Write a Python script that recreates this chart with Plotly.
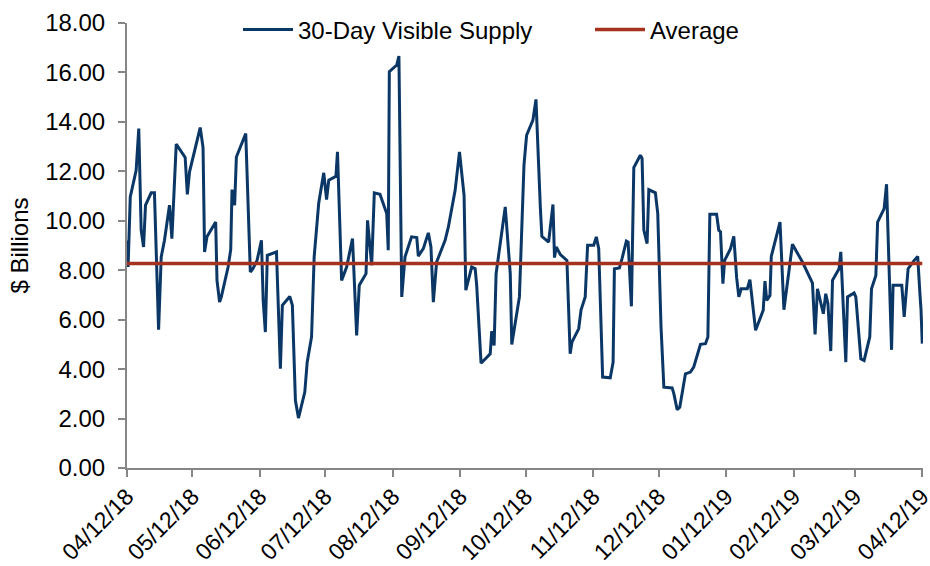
import pandas as pd
import plotly.graph_objects as go

# ---- data ----
start_date = "2018-04-12"
end_date = "2019-04-12"

# day offsets from 04/12/18 of each vertex of the supply line
day_offset = [
    0.0, 0.5, 1.5, 4.2, 5.4, 6.5, 7.6, 8.5, 11.1, 12.6, 14.5, 15.7, 17.2, 19.5, 20.6,
    22.6, 26.7, 27.7, 28.7, 33.6, 34.9, 35.6, 36.7, 40.7, 41.3, 42.5, 43.3, 46.4, 47.6,
    48.2, 49.4, 50.2, 54.5, 56.6, 57.8, 59.7, 61.7, 62.5, 63.5, 64.4, 68.6, 69.3, 70.4,
    71.3, 74.7, 75.9, 77.3, 78.7, 81.6, 82.7, 84.7, 85.9, 88.0, 90.3, 91.6, 92.6, 95.9,
    96.6, 98.5, 100.8, 103.5, 105.4, 106.6, 109.7, 110.4, 112.3, 113.5, 116.1, 119.2,
    119.9, 120.4, 123.8, 124.8, 126.1, 127.6, 130.6, 133.0, 133.7, 136.0, 138.3, 139.5,
    140.6, 142.1, 146.0, 147.5, 150.6, 152.6, 154.7, 155.5, 158.2, 159.8, 160.5, 162.5,
    166.7, 167.4, 168.5, 169.4, 173.6, 174.6, 175.9, 176.6, 180.1, 182.2, 183.4, 186.3,
    187.7, 189.7, 190.4, 193.5, 195.5, 196.2, 197.0, 198.9, 201.1, 201.9, 203.4, 204.2,
    207.3, 208.4, 210.3, 211.4, 214.2, 215.4, 216.5, 218.3, 221.8, 223.1, 223.7, 226.0,
    227.2, 229.2, 230.0, 231.5, 232.6, 235.6, 236.4, 237.2, 238.7, 239.5, 242.5, 243.6,
    245.1, 246.4, 250.2, 251.0, 252.5, 253.7, 256.3, 258.6, 260.1, 263.2, 265.5, 266.6,
    267.5, 270.6, 271.6, 272.4, 273.5, 274.3, 277.0, 278.5, 279.8, 280.8, 281.9, 284.7,
    285.9, 288.5, 292.0, 292.8, 293.6, 295.1, 295.7, 297.7, 299.7, 301.5, 305.4, 310.0,
    314.6, 315.8, 316.9, 319.6, 320.7, 321.7, 323.0, 323.8, 326.8, 327.6, 329.9, 330.7,
    333.7, 334.5, 336.8, 338.3, 340.9, 341.7, 343.7, 344.5, 347.5, 348.6, 350.9, 351.6,
    355.6, 356.7, 358.5, 361.3, 362.9, 364.0, 364.4, 365.0,
]

supply = [
    9.20, 8.13, 10.96, 12.04, 13.73, 9.62, 8.94, 10.63, 11.13, 11.13, 5.59, 8.54, 9.21, 10.63, 9.28,
    13.10, 12.56, 11.07, 11.98, 13.77, 12.96, 8.74, 9.35, 9.95, 7.59, 6.71, 6.92, 8.13, 8.83,
    11.26, 10.63, 12.58, 13.53, 7.93, 8.06, 8.40, 9.21, 6.78, 5.50, 8.60, 8.74, 7.05, 4.02,
    6.58, 6.94, 6.58, 2.73, 2.02, 3.07, 4.28, 5.30, 8.54, 10.72, 11.94, 10.86, 11.64, 11.80,
    12.79, 7.59, 8.13, 9.28, 5.36, 7.39, 7.86, 10.02, 8.20, 11.13, 11.07, 10.29,
    8.81, 16.03, 16.30, 16.66, 6.92, 8.54, 9.35, 9.32, 8.57, 8.87, 9.51, 8.94,
    6.71, 8.33, 9.21, 9.75, 11.23, 12.79, 11.03, 7.19, 8.13, 8.06, 7.39, 4.24,
    4.62, 5.54, 4.96, 7.86, 10.56, 9.21, 7.86, 5.00, 6.92, 12.25, 13.46, 14.07,
    14.91, 10.56, 9.37, 9.14, 10.66, 8.51, 8.94, 8.63, 8.43, 8.40, 4.62, 5.09,
    5.63, 6.40, 6.92, 9.01, 9.01, 9.35, 8.87, 3.68, 3.65, 4.28, 8.06, 8.09,
    8.47, 9.18, 9.14, 6.54, 12.15, 12.65, 12.52, 9.62, 9.08, 11.26, 11.13, 10.29,
    5.70, 3.27, 3.24, 3.00, 2.36, 2.46, 3.81, 3.88, 4.08, 5.00, 5.03, 5.30,
    10.26, 10.26, 9.62, 9.55, 7.46, 8.40, 8.87, 9.37, 7.70, 6.92, 7.25, 7.25,
    7.62, 5.57, 6.38, 7.56, 6.78, 6.98, 8.56, 9.21, 9.95, 6.40, 9.05, 8.33,
    7.48, 5.40, 7.25, 6.24, 7.05, 6.65, 4.73, 7.59, 8.06, 8.74, 4.28, 6.92,
    7.08, 6.92, 4.42, 4.35, 5.30, 7.25, 7.79, 9.95, 10.49, 11.48, 4.78, 7.39,
    7.39, 6.11, 8.06, 8.40, 8.56, 6.94, 6.44, 5.03,
]

average_value = 8.27

tick_dates = [
    "2018-04-12", "2018-05-12", "2018-06-12", "2018-07-12", "2018-08-12", "2018-09-12",
    "2018-10-12", "2018-11-12", "2018-12-12", "2019-01-12", "2019-02-12", "2019-03-12",
    "2019-04-12",
]
tick_labels = [
    "04/12/18", "05/12/18", "06/12/18", "07/12/18", "08/12/18", "09/12/18",
    "10/12/18", "11/12/18", "12/12/18", "01/12/19", "02/12/19", "03/12/19", "04/12/19",
]
y_ticks = [0, 2, 4, 6, 8, 10, 12, 14, 16, 18]

series_name = "30-Day Visible Supply"
average_name = "Average"
y_title = "$ Billions"

# ---- figure ----
dates = pd.Timestamp(start_date) + pd.to_timedelta(day_offset, unit="D")
x_end = pd.Timestamp(end_date) + pd.Timedelta(hours=8)

FONT = "Arial, Liberation Sans, sans-serif"
FS = 24
BLUE = "#0b3767"
RED = "#a5321f"
AXIS = "#868686"

fig = go.Figure()
fig.add_trace(go.Scatter(
    x=dates, y=supply, mode="lines", name=series_name,
    line=dict(color=BLUE, width=3),
))
fig.add_trace(go.Scatter(
    x=[start_date, end_date], y=[average_value, average_value], mode="lines",
    name=average_name, line=dict(color=RED, width=3.5),
))

fig.update_layout(
    width=930, height=566,
    margin=dict(l=127, r=7, t=23, b=98, autoexpand=False),
    paper_bgcolor="white", plot_bgcolor="white",
    font=dict(family=FONT, size=FS, color="#000000"),
    showlegend=True,
    legend=dict(
        orientation="h", xref="container", yref="container",
        x=238 / 930, xanchor="left", y=1 - 30 / 566, yanchor="middle",
        font=dict(size=FS, family=FONT), itemwidth=50, entrywidth=287,
        bgcolor="rgba(0,0,0,0)", tracegroupgap=0,
    ),
    xaxis=dict(
        type="date", range=[start_date, x_end], automargin=False,
        tickmode="array", tickvals=tick_dates, ticktext=tick_labels,
        tickangle=-45, ticks="outside", ticklen=7, tickwidth=1.5, tickcolor=AXIS,
        showline=True, linecolor=AXIS, linewidth=2, showgrid=False, zeroline=False,
        tickfont=dict(size=23, family=FONT), ticklabeloverflow="allow",
        ticklabelstandoff=-3,
    ),
    yaxis=dict(
        range=[0, 18], tickmode="array", tickvals=y_ticks, tickformat=".2f",
        automargin=False,
        ticks="outside", ticklen=7, tickwidth=1.5, tickcolor=AXIS,
        showline=True, linecolor=AXIS, linewidth=2, showgrid=False, zeroline=False,
        tickfont=dict(size=FS, family=FONT), ticklabelstandoff=8,
        title=dict(text=y_title, font=dict(size=FS, family=FONT), standoff=10),
    ),
)

fig.write_html("out.html", config={"displayModeBar": False})

# remove the browser's default 8px body margin so the figure fills the window
with open("out.html", "r", encoding="utf-8") as f:
    html = f.read()
html = html.replace("<body>", '<body style="margin:0;padding:0;overflow:hidden">', 1)
with open("out.html", "w", encoding="utf-8") as f:
    f.write(html)
